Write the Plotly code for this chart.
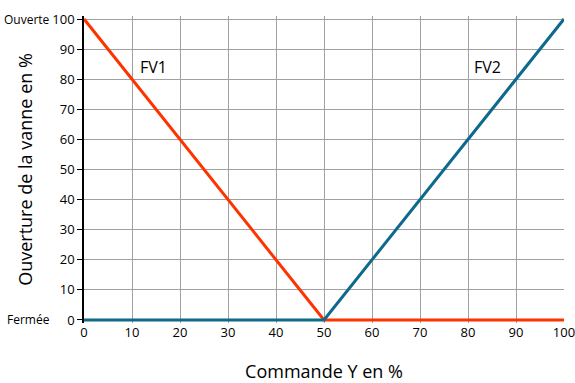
import plotly.graph_objects as go

# Command signal (%) and valve openings (%)
commande = [0, 50, 100]
fv1 = [100, 0, 0]
fv2 = [0, 0, 100]

x_ticks = list(range(0, 101, 10))
y_ticks = list(range(0, 101, 10))

fig = go.Figure()
fig.add_trace(go.Scatter(x=commande, y=fv1, mode="lines", name="FV1",
                         line=dict(color="#FF3300", width=3)))
fig.add_trace(go.Scatter(x=commande, y=fv2, mode="lines", name="FV2",
                         line=dict(color="#0E6A8C", width=3)))

font = "Open Sans, DejaVu Sans, sans-serif"
fig.update_layout(
    width=575, height=383,
    margin=dict(l=84, r=11, t=16, b=60, autoexpand=False),
    plot_bgcolor="white", paper_bgcolor="white",
    showlegend=False,
    font=dict(family=font, color="black", size=12),
    xaxis=dict(range=[0, 100], tickvals=x_ticks, showgrid=True, gridcolor="#a0a0a0",
               gridwidth=1, zeroline=False, showline=False, ticks="",
               tickfont=dict(size=13), automargin=False, ticklabeloverflow="allow",
               title=dict(text="Commande Y en %", font=dict(size=18), standoff=26)),
    yaxis=dict(range=[-1, 101], tickvals=y_ticks, showgrid=True, gridcolor="#a0a0a0",
               gridwidth=1, zeroline=False, showline=True, linecolor="black",
               linewidth=1.5, ticks="outside", ticklen=5, tickcolor="black",
               tickfont=dict(size=13), automargin=False,
               title=dict(text="Ouverture de la vanne en %", font=dict(size=18), standoff=15)),
    annotations=[
        dict(x=14.5, y=84, xref="x", yref="y", text="FV1", showarrow=False,
             font=dict(size=16)),
        dict(x=84, y=84, xref="x", yref="y", text="FV2", showarrow=False,
             font=dict(size=16)),
        dict(x=0, y=100, xref="paper", yref="y", text="Ouverte", showarrow=False,
             xanchor="right", xshift=-32, font=dict(size=12)),
        dict(x=0, y=0, xref="paper", yref="y", text="Fermée", showarrow=False,
             xanchor="right", xshift=-32, font=dict(size=12)),
    ],
)

fig.write_html("out.html")
